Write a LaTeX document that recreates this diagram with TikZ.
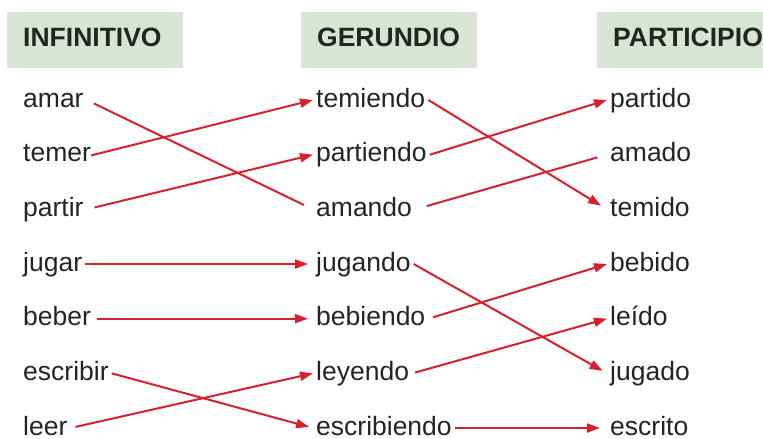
\documentclass[tikz,border=0pt]{standalone}
\usepackage{fontspec}
\setmainfont{Liberation Sans}
\usetikzlibrary{arrows.meta, positioning}
\definecolor{headgreen}{RGB}{216,229,212}
\definecolor{linkred}{RGB}{214,32,44}
\definecolor{wordgray}{RGB}{36,36,36}

\begin{document}
\begin{tikzpicture}[x=1pt, y=-1pt, node distance=54.67pt,
  head/.style={fill=headgreen, anchor=north west, minimum height=56pt, text width=144pt, inner xsep=16pt, align=left, text depth=5pt, text=wordgray, font=\bfseries\fontsize{26.5}{30}\selectfont},
  verb/.style={anchor=west, inner xsep=3pt, inner ysep=0pt, text height=17pt, text depth=3pt, text=wordgray, font=\fontsize{26.5}{30}\selectfont},
  link/.style={draw=linkred, line width=2pt, -{Triangle[length=13pt,width=9pt]}},
  bare/.style={draw=linkred, line width=2pt}]
\clip (0,0) rectangle (763,439);
\useasboundingbox (0,0) rectangle (763,439);
\node[head] (hinf) at (7,12)   {INFINITIVO};
\node[head] (hger) at (301,12) {GERUNDIO};
\node[head] (hpar) at (597,12) {PARTICIPIO};
\node[verb] (i1) at (20,100) {amar};
\node[verb, below=of i1.west, anchor=west] (i2) {temer};
\node[verb, below=of i2.west, anchor=west] (i3) {partir};
\node[verb, below=of i3.west, anchor=west] (i4) {jugar};
\node[verb, below=of i4.west, anchor=west] (i5) {beber};
\node[verb, below=of i5.west, anchor=west] (i6) {escribir};
\node[verb, below=of i6.west, anchor=west] (i7) {leer};
\node[verb] (g1) at (313,100) {temiendo};
\node[verb, below=of g1.west, anchor=west] (g2) {partiendo};
\node[verb, below=of g2.west, anchor=west] (g3) {amando};
\node[verb, below=of g3.west, anchor=west] (g4) {jugando};
\node[verb, below=of g4.west, anchor=west] (g5) {bebiendo};
\node[verb, below=of g5.west, anchor=west] (g6) {leyendo};
\node[verb, below=of g6.west, anchor=west] (g7) {escribiendo};
\node[verb] (p1) at (607,100) {partido};
\node[verb, below=of p1.west, anchor=west] (p2) {amado};
\node[verb, below=of p2.west, anchor=west] (p3) {temido};
\node[verb, below=of p3.west, anchor=west] (p4) {bebido};
\node[verb, below=of p4.west, anchor=west] (p5) {leído};
\node[verb, below=of p5.west, anchor=west] (p6) {jugado};
\node[verb, below=of p6.west, anchor=west] (p7) {escrito};
\draw[bare, shorten <=8pt, shorten >=10pt] (i1.east) -- (g3.west);
\draw[link, shorten <=-3pt] (i2.east) -- (g1.west);
\draw[link, shorten <=8pt] (i3.east) -- (g2.west);
\draw[link, shorten >=5pt] (i4.east) -- (g4.west);
\draw[link, shorten <=3pt, shorten >=5pt] (i5.east) -- (g5.west);
\draw[link, shorten >=4pt] (i6.east) -- (g7.west);
\draw[link, shorten <=5pt] (i7.east) -- (g6.west);
\draw[link, shorten >=7pt] (g1.east) -- (p3.west);
\draw[link] (g2.east) -- (p1.west);
\draw[bare, shorten <=12pt, shorten >=10pt] (g3.east) -- (p2.west);
\draw[link, shorten >=5pt] (g4.east) -- (p6.west);
\draw[link, shorten <=5pt] (g5.east) -- (p4.west);
\draw[link, shorten <=3pt] (g6.east) -- (p5.west);
\draw[link, shorten >=7pt] (g7.east) -- (p7.west);
\end{tikzpicture}
\end{document}
